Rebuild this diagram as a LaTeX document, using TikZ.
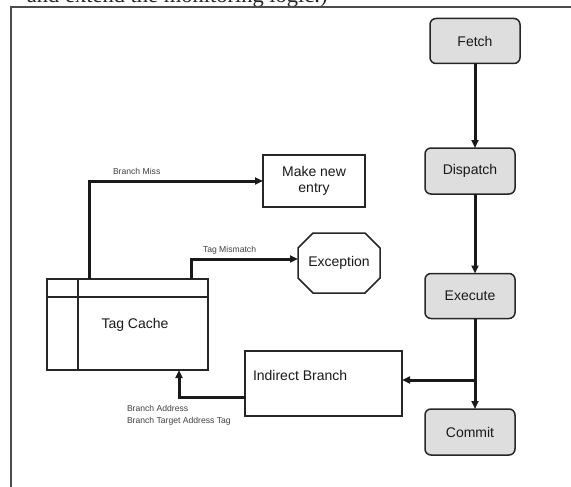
\documentclass[tikz,border=0pt]{standalone}
\usepackage{fontspec}
\setmainfont{Liberation Sans}
\newfontfamily\serifcap{Liberation Serif}
\usetikzlibrary{arrows.meta,calc}
\begin{document}
\begin{tikzpicture}[x=1pt,y=-1pt,
  every node/.style={inner sep=0pt, outer sep=0pt},
  big/.style={font=\fontsize{14}{16}\selectfont, text=black!90},
  small/.style={font=\fontsize{8.6}{10}\selectfont, text=black!75},
  stage/.style={big, draw=black!85, line width=1.5pt, fill=black!13, rounded corners=6pt, minimum width=90pt, minimum height=45pt},
  plainbox/.style={big, draw=black!85, line width=1.5pt, fill=white},
  conn/.style={line width=3pt, draw=black!90, -{Triangle[length=8pt,width=7pt]}}
]
\useasboundingbox (0,0) rectangle (571,487);
\clip (0,0) rectangle (571,487);
% cut-off caption text and frame
\node[anchor=base west, font=\fontsize{22.5}{26}\serifcap, text=black!85] (cap) at (27,2.5) {and extend the monitoring logic.)};
\draw[line width=1.5pt, draw=black!70] (11,487) -- (11,7) -- (571,7);

% pipeline
\node[stage] (fetch) at (475,41) {Fetch};
\node[stage, minimum height=46pt] (dispatch) at (470,171) {Dispatch};
\node[stage] (execute) at (470,296) {Execute};
\node[stage, minimum height=46pt] (commit) at (470,432) {Commit};

% other boxes
\node[plainbox, minimum width=102pt, minimum height=52pt, align=center] (make) at (314,181) {Make new\\entry};
\node[plainbox, minimum width=157pt, minimum height=65pt] (indirect) at (323.5,383.5) {};
\node[big, anchor=west] (indtext) at (253,375) {Indirect Branch};

% exception octagon
\node[minimum width=82pt, minimum height=60pt] (exc) at (339,263) {};
\draw[line width=1.5pt, draw=black!85, fill=white]
  ($(exc.north west)+(15,0)$) -- ($(exc.north east)+(-15,0)$) -- ($(exc.north east)+(0,15)$)
  -- ($(exc.south east)+(0,-15)$) -- ($(exc.south east)+(-15,0)$) -- ($(exc.south west)+(15,0)$)
  -- ($(exc.south west)+(0,-15)$) -- ($(exc.north west)+(0,15)$) -- cycle;
\node[big] (exctext) at (exc.center) {Exception};

% tag cache
\node[draw=black!85, line width=1.5pt, minimum width=161pt, minimum height=91pt] (tag) at (127.5,324.5) {};
\coordinate (hdrL) at (47,297);
\coordinate (hdrR) at (208,297);
\coordinate (divT) at (78,279);
\coordinate (divB) at (78,370);
\draw[line width=1.5pt, draw=black!85] (hdrL) -- (hdrR);
\draw[line width=1.5pt, draw=black!85] (divT) -- (divB);
\node[big] (tagtext) at (135,325) {Tag Cache};

% pipeline arrows
\draw[conn] (fetch.south) -- (fetch.south |- dispatch.north);
\draw[conn] (fetch.south |- dispatch.south) -- (fetch.south |- execute.north);
\draw[conn] (fetch.south |- execute.south) -- (fetch.south |- commit.north);
\coordinate (tap) at (475,380);
\draw[conn] (tap) -- (tap -| indirect.east);

% branch miss
\coordinate (bmA) at (89,279);
\coordinate (bmB) at (89,181);
\draw[conn] (bmA) -- (bmB) -- (make.west);
\node[small, anchor=base west] (bmlabel) at (113,175) {Branch Miss};

% tag mismatch
\coordinate (tmA) at (191,279);
\coordinate (tmB) at (191,259);
\draw[conn] (tmA) -- (tmB) -- (tmB -| exc.west);
\node[small, anchor=base west] (tmlabel) at (203,252) {Tag Mismatch};

% indirect branch back to tag cache
\coordinate (ibA) at (245,397);
\coordinate (ibB) at (179,397);
\draw[conn] (ibA) -- (ibB) -- (ibB |- tag.south);
\node[small, anchor=base west] (ba) at (127,411) {Branch Address};
\node[small, anchor=base west] (bta) at (127,423) {Branch Target Address Tag};
\end{tikzpicture}
\end{document}
